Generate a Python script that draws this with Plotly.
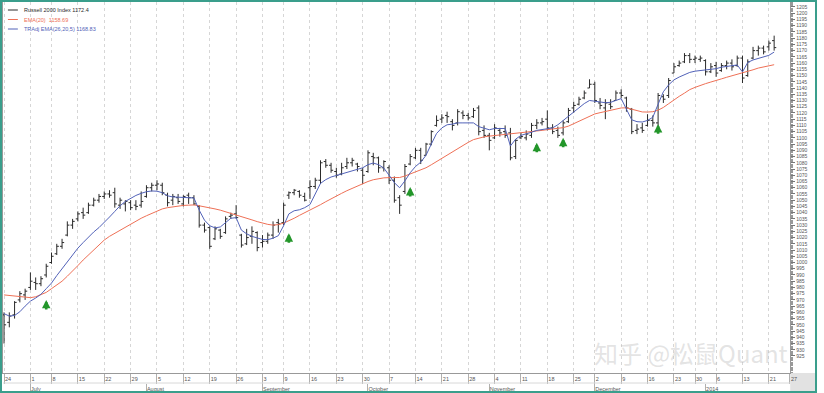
import pandas as pd
import plotly.graph_objects as go

# ---------------- data ----------------
holidays = ["2013-07-04", "2013-09-02", "2013-11-28", "2013-12-25", "2014-01-01", "2014-01-20"]
cal = pd.bdate_range("2013-06-24", "2014-01-27")
cal = cal[~cal.isin(pd.to_datetime(holidays))]

opens = [958, 952, 958, 970, 974, 980, 984, 983, 990, 1000, 1007, 1013, 1022, 1030,
         1035, 1040, 1040, 1046, 1050, 1053, 1055, 1056, 1046, 1047, 1048, 1046, 1046, 1053, 1060,
         1062, 1062, 1054, 1050, 1052, 1047, 1054, 1052, 1045, 1030, 1028, 1019, 1026, 1024, 1037,
         1039, 1022, 1015, 1021, 1024, 1016, 1017, 1022, 1032, 1032, 1054, 1056, 1057, 1053,
         1060, 1061, 1066, 1081, 1078, 1073, 1071, 1077, 1080, 1079, 1074, 1073, 1085, 1084, 1076,
         1076, 1066, 1052, 1057, 1079, 1084, 1090, 1086, 1095, 1110, 1115, 1118, 1113, 1112, 1120,
         1118, 1117, 1124, 1106, 1102, 1100, 1106, 1105, 1104, 1085, 1100, 1100, 1102, 1110, 1112,
         1115, 1108, 1106, 1104, 1113, 1124, 1127, 1132, 1140, 1143, 1128, 1124, 1127, 1130,
         1136, 1132, 1123, 1106, 1108, 1110, 1114, 1112, 1133, 1134, 1152, 1158, 1161, 1166,
         1163, 1163, 1162, 1153, 1158, 1154, 1158, 1160, 1158, 1164, 1150, 1164, 1170, 1172,
         1173, 1178]
highs = [960, 960, 969, 977, 979, 992, 988, 989, 999, 1008, 1015, 1019, 1033, 1035,
         1041, 1044, 1048, 1052, 1055, 1057, 1058, 1060, 1052, 1050, 1050, 1050, 1057, 1062, 1064,
         1066, 1064, 1056, 1055, 1055, 1054, 1056, 1054, 1046, 1032, 1029, 1029, 1027, 1037, 1040,
         1046, 1023, 1027, 1029, 1025, 1022, 1024, 1033, 1035, 1048, 1057, 1059, 1058, 1056,
         1066, 1068, 1082, 1083, 1080, 1076, 1080, 1084, 1084, 1080, 1076, 1090, 1088, 1085, 1082,
         1078, 1069, 1054, 1079, 1087, 1092, 1092, 1096, 1106, 1118, 1119, 1121, 1115, 1123, 1122,
         1120, 1124, 1126, 1110, 1104, 1111, 1108, 1110, 1108, 1099, 1104, 1106, 1112, 1115, 1116,
         1122, 1111, 1109, 1114, 1124, 1129, 1133, 1138, 1147, 1145, 1132, 1131, 1131, 1138,
         1139, 1133, 1124, 1111, 1112, 1119, 1118, 1136, 1135, 1148, 1160, 1162, 1168, 1168,
         1166, 1166, 1163, 1160, 1161, 1160, 1162, 1163, 1166, 1166, 1163, 1173, 1174, 1174,
         1178, 1182]
lows = [935, 948, 955, 968, 970, 978, 978, 981, 988, 999, 1006, 1011, 1021, 1027,
        1033, 1035, 1039, 1045, 1048, 1051, 1052, 1044, 1043, 1041, 1042, 1042, 1044, 1052, 1057,
        1058, 1054, 1045, 1046, 1047, 1045, 1047, 1046, 1028, 1024, 1011, 1018, 1019, 1023, 1035,
        1035, 1012, 1014, 1015, 1009, 1012, 1015, 1019, 1024, 1030, 1051, 1054, 1052, 1049,
        1051, 1059, 1063, 1076, 1072, 1068, 1070, 1075, 1077, 1073, 1063, 1072, 1078, 1072, 1073,
        1063, 1048, 1039, 1055, 1078, 1083, 1079, 1086, 1094, 1109, 1112, 1112, 1106, 1110, 1115,
        1114, 1116, 1102, 1100, 1090, 1099, 1101, 1100, 1082, 1083, 1099, 1098, 1100, 1107, 1110,
        1106, 1103, 1100, 1102, 1112, 1120, 1126, 1131, 1140, 1128, 1123, 1115, 1123, 1130,
        1132, 1121, 1103, 1103, 1104, 1109, 1109, 1108, 1128, 1132, 1152, 1157, 1160, 1160,
        1160, 1161, 1150, 1152, 1149, 1153, 1155, 1154, 1157, 1144, 1149, 1163, 1166, 1167,
        1170, 1170]
closes = [950, 957, 968, 975, 977, 985, 983, 987, 997, 1005, 1013, 1016, 1030, 1033,
          1039, 1038, 1046, 1050, 1053, 1055, 1054, 1047, 1050, 1049, 1044, 1045, 1049, 1060, 1062,
          1063, 1056, 1048, 1053, 1049, 1053, 1052, 1047, 1030, 1026, 1013, 1027, 1021, 1035, 1038,
          1036, 1014, 1020, 1025, 1012, 1017, 1022, 1030, 1031, 1046, 1056, 1058, 1054, 1050,
          1061, 1066, 1080, 1078, 1074, 1070, 1076, 1080, 1082, 1077, 1070, 1088, 1084, 1076, 1081,
          1066, 1050, 1046, 1077, 1085, 1090, 1082, 1095, 1105, 1114, 1116, 1117, 1110, 1121, 1118,
          1116, 1122, 1105, 1102, 1098, 1108, 1104, 1102, 1084, 1098, 1101, 1103, 1110, 1112, 1113,
          1108, 1105, 1102, 1112, 1122, 1126, 1131, 1136, 1143, 1130, 1126, 1128, 1125, 1136,
          1134, 1124, 1105, 1107, 1106, 1114, 1112, 1134, 1131, 1146, 1157, 1160, 1166, 1163,
          1164, 1164, 1153, 1157, 1152, 1158, 1160, 1157, 1164, 1148, 1161, 1170, 1172, 1169,
          1176, 1172.4]
ema20 = [974, 973.5, 973, 972.5, 972, 971.8, 972.5, 974, 976, 979, 982, 985, 989, 993,
         997.5, 1002, 1006, 1010, 1014, 1018, 1021, 1023.5, 1026, 1028.5, 1031, 1033, 1035.5, 1037.5,
         1039.5, 1041.5, 1043, 1044, 1044.8, 1045.3, 1045.8, 1046, 1046.2, 1045.5, 1044.8, 1043.8,
         1043, 1042, 1040.8, 1039.6, 1038.4, 1037, 1035.6, 1034.2, 1032.8, 1031.5, 1030.6, 1030,
         1030.4, 1031.6, 1033.4, 1035.5, 1037.8, 1039.8, 1041.8, 1044, 1046.4, 1048.8, 1051.2,
         1053.4, 1055.5, 1057.6, 1059.6, 1061.4, 1063.2, 1065, 1066.4, 1067.4, 1067.9, 1068.1, 1068,
         1068.2, 1069.4, 1071, 1072.6, 1074, 1076, 1078.4, 1081, 1083.8, 1086.6, 1089.2, 1091.8,
         1094.2, 1096.4, 1098.6, 1100, 1100.8, 1101.4, 1101.8, 1102.2, 1102.6, 1103.2, 1103.8,
         1104.3, 1104.7, 1105.2, 1105.6, 1106, 1106.6, 1107, 1107.5, 1108.2, 1109.4, 1111.5, 1113.4,
         1115.3, 1117.6, 1119.2, 1120.2, 1121.3, 1122.3, 1123.2, 1124, 1124.1, 1122.8, 1121.6,
         1120.8, 1120.7, 1121, 1122.2, 1124.4, 1127.4, 1130.6, 1133.3, 1135.9, 1138.7, 1140.5,
         1142.2, 1143.5, 1144.8, 1145.8, 1147.3, 1148.6, 1149.7, 1151.1, 1152.1, 1153.2, 1154.6,
         1156, 1156.9, 1157.9, 1158.69]
tradj = [959, 957, 957.5, 960.5, 965, 969, 971.5, 974.5, 979, 983.5, 989.5, 995, 1000.5, 1006,
         1011.5, 1016, 1020.5, 1024.5, 1028, 1032, 1036.5, 1041, 1045.5, 1049, 1051.5, 1053.8,
         1055.5, 1056.8, 1057.4, 1057.2, 1056, 1053.5, 1052.6, 1052.4, 1052.6, 1052.3, 1051.8, 1042,
         1034, 1029.5, 1027.8, 1028.5, 1031.8, 1035.5, 1036, 1026, 1023, 1021, 1019.7, 1018.5,
         1018.3, 1019.5, 1021.5, 1029.5, 1039, 1041.5, 1042.3, 1044, 1046.5, 1055, 1063.5, 1066.5,
         1068.6, 1069.8, 1071, 1072.2, 1073.5, 1074.8, 1076, 1078.5, 1079.8, 1078.5, 1075.8, 1070,
         1064, 1060, 1065.5, 1072, 1077, 1080.5, 1086, 1095, 1103.5, 1108, 1110.5, 1111, 1112, 1112,
         1111.8, 1112, 1109, 1107.6, 1106.5, 1107.5, 1107.8, 1107.5, 1093.5, 1099, 1102, 1103,
         1104.5, 1106, 1106.8, 1107.5, 1108, 1110.5, 1114, 1117.5, 1121, 1124.5, 1127.5, 1130,
         1129.5, 1128.8, 1128.2, 1128.5, 1130, 1131.5, 1123, 1114.5, 1113, 1112.7, 1114, 1116.5,
         1127, 1137, 1142.5, 1146.5, 1148.8, 1150.5, 1152.5, 1153.5, 1154.2, 1154.5, 1155, 1155.5,
         1156.7, 1157.3, 1157.8, 1158.5, 1152.9, 1160.5, 1162.5, 1163.8, 1164.5, 1166.2, 1168.83]

signal_idx = [8, 54, 77, 101, 106, 124]
signal_tip = [970, 1023.5, 1060.5, 1096, 1100, 1111]

month_labels = ["July", "August", "September", "October", "November", "December", "2014"]
price_ticks = list(range(925, 1210, 5))

# ---------------- axes helpers ----------------
idx = list(range(len(closes)))
wk = [(d.isocalendar()[0], d.isocalendar()[1]) for d in cal]
week_pos = [i for i in range(len(cal)) if i == 0 or wk[i] != wk[i - 1]]
week_txt = [str(cal[i].day) for i in week_pos]
mon_pos = [i for i in range(1, len(cal)) if cal[i].month != cal[i - 1].month]

W, H = 824, 393
px = lambda v: v / W
py = lambda v: 1 - v / H

FONT = "Liberation Sans, Arial, sans-serif"
RED = "#ee7056"
BLUE = "#5262b8"
BAR = "#2a2a2a"

fig = go.Figure()
fig.add_trace(go.Ohlc(x=idx, open=opens, high=highs, low=lows, close=closes,
                      increasing_line_color=BAR, decreasing_line_color=BAR,
                      line_width=1, tickwidth=0.4, showlegend=False, hoverinfo="skip"))
fig.add_trace(go.Scatter(x=idx, y=ema20, mode="lines", line=dict(color=RED, width=1),
                         showlegend=False, hoverinfo="skip"))
fig.add_trace(go.Scatter(x=idx, y=tradj, mode="lines", line=dict(color=BLUE, width=1),
                         showlegend=False, hoverinfo="skip"))
fig.add_trace(go.Scatter(x=[], y=[], xaxis="x2", showlegend=False))

xr = [-0.2, 149.05]
fig.update_layout(
    width=W, height=H, margin=dict(l=0, r=0, t=0, b=0),
    paper_bgcolor="white", plot_bgcolor="white",
    font=dict(family=FONT, size=5, color="#555"),
    xaxis=dict(domain=[px(3), px(797)], range=xr, tickmode="array",
               tickvals=week_pos, ticktext=week_txt, ticks="outside", ticklen=10,
               tickcolor="#b0b0b0", ticklabelposition="outside right",
               tickfont=dict(size=5.5, color="#555"),
               showgrid=True, gridcolor="#d6d6d6", griddash="dot", gridwidth=1,
               showline=True, linecolor="#999", mirror=True, zeroline=False,
               rangeslider=dict(visible=False), fixedrange=True),
    xaxis2=dict(overlaying="x", anchor="free", position=(H - 383) / H, range=xr,
                tickmode="array", tickvals=mon_pos, ticktext=month_labels,
                ticks="outside", ticklen=8, tickcolor="#b0b0b0",
                ticklabelposition="outside right", ticklabelstandoff=0,
                tickfont=dict(size=5.5, color="#555"),
                showgrid=False, showline=False, zeroline=False),
    yaxis=dict(domain=[1 - 373 / H, 1 - 2 / H], range=[911.35, 1209.0], side="right",
               tickmode="array", tickvals=price_ticks, ticks="outside", ticklen=4,
               tickcolor="#777", tickfont=dict(size=5, color="#555"),
               minor=dict(dtick=1, ticks="outside", ticklen=2, tickcolor="#999"),
               showgrid=False, showline=True, linecolor="#999", mirror=True,
               zeroline=False, fixedrange=True),
    showlegend=False,
)

# signal arrows
for i, tip in zip(signal_idx, signal_tip):
    fig.add_annotation(x=i, y=tip, xref="x", yref="y", text="", showarrow=True,
                       arrowhead=2, arrowsize=0.65, arrowwidth=2.6, arrowcolor="#23962a",
                       ax=0, ay=11)

# legend (drawn manually for compact spacing)
leg = [("Russell 2000 Index " + f"{closes[-1]:g}", BAR),
       ("EMA(20)  " + f"{ema20[-1]:.2f}", RED),
       ("TRAdj EMA(26,20,5) " + f"{tradj[-1]:.2f}", BLUE)]
for k, (txt, col) in enumerate(leg):
    yy = 10 + k * 9.5
    fig.add_shape(type="line", xref="paper", yref="paper", x0=px(8), x1=px(18),
                  y0=py(yy), y1=py(yy), line=dict(color=col, width=1))
    fig.add_annotation(x=px(22), y=py(yy), xref="paper", yref="paper", text=txt,
                       showarrow=False, xanchor="left", yanchor="middle",
                       font=dict(family=FONT, size=5.5, color=col))

# watermark
fig.add_annotation(x=px(797), y=py(352), xref="paper", yref="paper",
                   text="知乎 @松鼠Quant", showarrow=False, xanchor="right", yanchor="middle",
                   font=dict(family="Noto Sans CJK SC", size=24, color="rgba(185,185,185,0.4)"))

# bottom-right corner box and outer frame
fig.add_shape(type="rect", xref="paper", yref="paper", x0=px(797), x1=px(822),
              y0=py(391), y1=py(373), fillcolor="#e2e2e2", line=dict(width=0), layer="below")
fig.add_shape(type="line", xref="paper", yref="paper", x0=px(3), x1=px(797),
              y0=py(383), y1=py(383), line=dict(color="#d8d8d8", width=1))
fig.add_shape(type="rect", xref="paper", yref="paper", x0=px(1), x1=px(823),
              y0=py(392), y1=py(1), line=dict(color="#3a9e8c", width=2))

fig.write_html("out.html")
